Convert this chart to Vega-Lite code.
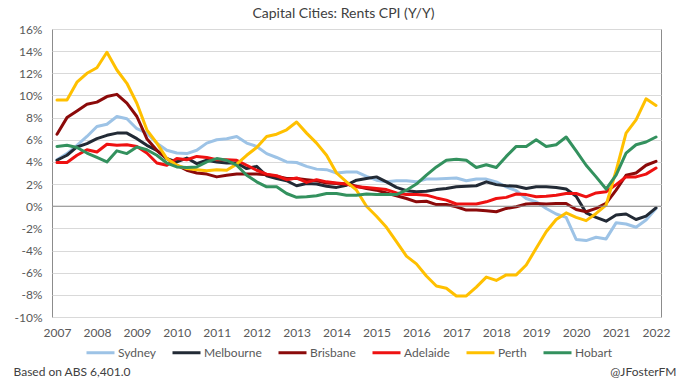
{
  "$schema": "https://vega.github.io/schema/vega-lite/v6.json",
  "width": 609,
  "height": 288,
  "autosize": {"type": "none"},
  "padding": {"left": 52, "top": 29, "right": 25, "bottom": 68},
  "background": "white",
  "config": {
    "font": "Lato",
    "view": {"stroke": "#8c8c8c", "strokeWidth": 1},
    "axis": {"labelOverlap": false}
  },
  "title": {
    "text": "Capital Cities: Rents CPI (Y/Y)",
    "font": "Lato",
    "fontSize": 14,
    "fontWeight": "normal",
    "color": "#404040",
    "anchor": "middle",
    "frame": "group",
    "dx": -13,
    "offset": 2
  },
  "layer": [
    {
      "data": {
        "values": [
          {"t": 2007.00, "Sydney": 4.2, "Melbourne": 4.15, "Brisbane": 6.5, "Adelaide": 3.95, "Perth": 9.6, "Hobart": 5.4},
          {"t": 2007.25, "Sydney": 4.75, "Melbourne": 4.6, "Brisbane": 8.0, "Adelaide": 3.95, "Perth": 9.6, "Hobart": 5.5},
          {"t": 2007.50, "Sydney": 5.5, "Melbourne": 5.35, "Brisbane": 8.6, "Adelaide": 4.6, "Perth": 11.2, "Hobart": 5.3},
          {"t": 2007.75, "Sydney": 6.3, "Melbourne": 5.65, "Brisbane": 9.2, "Adelaide": 5.1, "Perth": 12.0, "Hobart": 4.8},
          {"t": 2008.00, "Sydney": 7.2, "Melbourne": 6.1, "Brisbane": 9.4, "Adelaide": 4.9, "Perth": 12.5, "Hobart": 4.4},
          {"t": 2008.25, "Sydney": 7.4, "Melbourne": 6.4, "Brisbane": 9.9, "Adelaide": 5.6, "Perth": 13.9, "Hobart": 4.0},
          {"t": 2008.50, "Sydney": 8.1, "Melbourne": 6.6, "Brisbane": 10.1, "Adelaide": 5.5, "Perth": 12.3, "Hobart": 5.0},
          {"t": 2008.75, "Sydney": 7.9, "Melbourne": 6.6, "Brisbane": 9.3, "Adelaide": 5.55, "Perth": 11.1, "Hobart": 4.75},
          {"t": 2009.00, "Sydney": 7.0, "Melbourne": 6.1, "Brisbane": 8.1, "Adelaide": 5.4, "Perth": 9.3, "Hobart": 5.35},
          {"t": 2009.25, "Sydney": 6.6, "Melbourne": 5.5, "Brisbane": 6.1, "Adelaide": 4.8, "Perth": 6.9, "Hobart": 5.1},
          {"t": 2009.50, "Sydney": 5.7, "Melbourne": 5.05, "Brisbane": 5.05, "Adelaide": 3.9, "Perth": 5.7, "Hobart": 4.6},
          {"t": 2009.75, "Sydney": 5.05, "Melbourne": 4.3, "Brisbane": 4.3, "Adelaide": 3.7, "Perth": 4.3, "Hobart": 3.9},
          {"t": 2010.00, "Sydney": 4.8, "Melbourne": 4.0, "Brisbane": 3.7, "Adelaide": 4.3, "Perth": 3.7, "Hobart": 3.55},
          {"t": 2010.25, "Sydney": 4.75, "Melbourne": 4.35, "Brisbane": 3.25, "Adelaide": 4.2, "Perth": 3.4, "Hobart": 3.5},
          {"t": 2010.50, "Sydney": 5.05, "Melbourne": 3.85, "Brisbane": 3.0, "Adelaide": 4.5, "Perth": 3.3, "Hobart": 3.55},
          {"t": 2010.75, "Sydney": 5.7, "Melbourne": 4.15, "Brisbane": 2.9, "Adelaide": 4.4, "Perth": 3.2, "Hobart": 4.0},
          {"t": 2011.00, "Sydney": 6.0, "Melbourne": 4.0, "Brisbane": 2.65, "Adelaide": 4.2, "Perth": 3.3, "Hobart": 4.3},
          {"t": 2011.25, "Sydney": 6.1, "Melbourne": 3.9, "Brisbane": 2.8, "Adelaide": 4.2, "Perth": 3.25, "Hobart": 4.15},
          {"t": 2011.50, "Sydney": 6.3, "Melbourne": 3.9, "Brisbane": 2.9, "Adelaide": 4.15, "Perth": 3.8, "Hobart": 3.7},
          {"t": 2011.75, "Sydney": 5.7, "Melbourne": 3.4, "Brisbane": 2.9, "Adelaide": 3.7, "Perth": 4.6, "Hobart": 2.8},
          {"t": 2012.00, "Sydney": 5.4, "Melbourne": 3.6, "Brisbane": 2.9, "Adelaide": 3.25, "Perth": 5.3, "Hobart": 2.2},
          {"t": 2012.25, "Sydney": 4.75, "Melbourne": 2.75, "Brisbane": 2.85, "Adelaide": 2.9, "Perth": 6.3, "Hobart": 1.75},
          {"t": 2012.50, "Sydney": 4.4, "Melbourne": 2.5, "Brisbane": 2.7, "Adelaide": 2.75, "Perth": 6.5, "Hobart": 1.75},
          {"t": 2012.75, "Sydney": 4.0, "Melbourne": 2.3, "Brisbane": 2.5, "Adelaide": 2.4, "Perth": 6.9, "Hobart": 1.15},
          {"t": 2013.00, "Sydney": 3.95, "Melbourne": 1.85, "Brisbane": 2.5, "Adelaide": 2.55, "Perth": 7.6, "Hobart": 0.8},
          {"t": 2013.25, "Sydney": 3.6, "Melbourne": 2.05, "Brisbane": 2.4, "Adelaide": 2.15, "Perth": 6.6, "Hobart": 0.85},
          {"t": 2013.50, "Sydney": 3.35, "Melbourne": 2.0, "Brisbane": 2.3, "Adelaide": 2.4, "Perth": 5.7, "Hobart": 0.95},
          {"t": 2013.75, "Sydney": 3.3, "Melbourne": 1.8, "Brisbane": 2.1, "Adelaide": 2.2, "Perth": 4.6, "Hobart": 1.15},
          {"t": 2014.00, "Sydney": 3.0, "Melbourne": 1.7, "Brisbane": 2.05, "Adelaide": 2.1, "Perth": 3.0, "Hobart": 1.15},
          {"t": 2014.25, "Sydney": 3.1, "Melbourne": 1.9, "Brisbane": 2.0, "Adelaide": 2.0, "Perth": 2.2, "Hobart": 1.0},
          {"t": 2014.50, "Sydney": 3.1, "Melbourne": 2.35, "Brisbane": 1.8, "Adelaide": 1.75, "Perth": 1.45, "Hobart": 1.0},
          {"t": 2014.75, "Sydney": 2.7, "Melbourne": 2.5, "Brisbane": 1.6, "Adelaide": 1.7, "Perth": 0.0, "Hobart": 1.1},
          {"t": 2015.00, "Sydney": 2.35, "Melbourne": 2.65, "Brisbane": 1.45, "Adelaide": 1.6, "Perth": -0.9, "Hobart": 1.05},
          {"t": 2015.25, "Sydney": 2.2, "Melbourne": 2.2, "Brisbane": 1.2, "Adelaide": 1.5, "Perth": -1.9, "Hobart": 1.05},
          {"t": 2015.50, "Sydney": 2.3, "Melbourne": 1.7, "Brisbane": 0.95, "Adelaide": 1.2, "Perth": -3.2, "Hobart": 1.05},
          {"t": 2015.75, "Sydney": 2.3, "Melbourne": 1.4, "Brisbane": 0.7, "Adelaide": 1.05, "Perth": -4.5, "Hobart": 1.45},
          {"t": 2016.00, "Sydney": 2.2, "Melbourne": 1.3, "Brisbane": 0.4, "Adelaide": 1.05, "Perth": -5.2, "Hobart": 2.0},
          {"t": 2016.25, "Sydney": 2.45, "Melbourne": 1.35, "Brisbane": 0.45, "Adelaide": 1.0, "Perth": -6.3, "Hobart": 2.8},
          {"t": 2016.50, "Sydney": 2.45, "Melbourne": 1.5, "Brisbane": 0.15, "Adelaide": 0.75, "Perth": -7.2, "Hobart": 3.55},
          {"t": 2016.75, "Sydney": 2.5, "Melbourne": 1.6, "Brisbane": 0.15, "Adelaide": 0.55, "Perth": -7.4, "Hobart": 4.15},
          {"t": 2017.00, "Sydney": 2.55, "Melbourne": 1.75, "Brisbane": -0.05, "Adelaide": 0.2, "Perth": -8.1, "Hobart": 4.25},
          {"t": 2017.25, "Sydney": 2.3, "Melbourne": 1.8, "Brisbane": -0.35, "Adelaide": 0.2, "Perth": -8.1, "Hobart": 4.15},
          {"t": 2017.50, "Sydney": 2.45, "Melbourne": 1.85, "Brisbane": -0.35, "Adelaide": 0.2, "Perth": -7.3, "Hobart": 3.5},
          {"t": 2017.75, "Sydney": 2.45, "Melbourne": 2.2, "Brisbane": -0.4, "Adelaide": 0.4, "Perth": -6.4, "Hobart": 3.75},
          {"t": 2018.00, "Sydney": 2.2, "Melbourne": 1.95, "Brisbane": -0.5, "Adelaide": 0.7, "Perth": -6.7, "Hobart": 3.5},
          {"t": 2018.25, "Sydney": 1.75, "Melbourne": 1.85, "Brisbane": -0.2, "Adelaide": 0.8, "Perth": -6.2, "Hobart": 4.5},
          {"t": 2018.50, "Sydney": 1.4, "Melbourne": 1.8, "Brisbane": -0.05, "Adelaide": 1.1, "Perth": -6.2, "Hobart": 5.4},
          {"t": 2018.75, "Sydney": 0.7, "Melbourne": 1.6, "Brisbane": 0.2, "Adelaide": 1.05, "Perth": -5.3, "Hobart": 5.4},
          {"t": 2019.00, "Sydney": 0.4, "Melbourne": 1.75, "Brisbane": 0.25, "Adelaide": 0.85, "Perth": -3.8, "Hobart": 6.0},
          {"t": 2019.25, "Sydney": -0.2, "Melbourne": 1.75, "Brisbane": 0.2, "Adelaide": 0.9, "Perth": -2.3, "Hobart": 5.4},
          {"t": 2019.50, "Sydney": -0.7, "Melbourne": 1.7, "Brisbane": 0.25, "Adelaide": 1.0, "Perth": -1.2, "Hobart": 5.55},
          {"t": 2019.75, "Sydney": -1.0, "Melbourne": 1.55, "Brisbane": 0.25, "Adelaide": 1.15, "Perth": -0.6, "Hobart": 6.25},
          {"t": 2020.00, "Sydney": -3.0, "Melbourne": 0.9, "Brisbane": -0.3, "Adelaide": 1.15, "Perth": -1.0, "Hobart": 5.0},
          {"t": 2020.25, "Sydney": -3.1, "Melbourne": -0.6, "Brisbane": -0.5, "Adelaide": 0.85, "Perth": -1.3, "Hobart": 3.7},
          {"t": 2020.50, "Sydney": -2.8, "Melbourne": -1.0, "Brisbane": -0.2, "Adelaide": 1.2, "Perth": -0.65, "Hobart": 2.65},
          {"t": 2020.75, "Sydney": -2.95, "Melbourne": -1.35, "Brisbane": 0.25, "Adelaide": 1.3, "Perth": 0.1, "Hobart": 1.55},
          {"t": 2021.00, "Sydney": -1.5, "Melbourne": -0.8, "Brisbane": 1.45, "Adelaide": 1.95, "Perth": 3.2, "Hobart": 2.8},
          {"t": 2021.25, "Sydney": -1.6, "Melbourne": -0.7, "Brisbane": 2.8, "Adelaide": 2.65, "Perth": 6.6, "Hobart": 4.8},
          {"t": 2021.50, "Sydney": -1.9, "Melbourne": -1.2, "Brisbane": 3.0, "Adelaide": 2.65, "Perth": 7.8, "Hobart": 5.55},
          {"t": 2021.75, "Sydney": -1.25, "Melbourne": -0.9, "Brisbane": 3.7, "Adelaide": 2.9, "Perth": 9.7, "Hobart": 5.8},
          {"t": 2022.00, "Sydney": -0.2, "Melbourne": -0.15, "Brisbane": 4.05, "Adelaide": 3.45, "Perth": 9.1, "Hobart": 6.25}
        ]
      },
      "transform": [
        {"fold": ["Sydney", "Melbourne", "Brisbane", "Adelaide", "Perth", "Hobart"], "as": ["city", "value"]}
      ],
      "mark": {"type": "line", "strokeWidth": 3, "strokeJoin": "round", "strokeCap": "round"},
      "encoding": {
        "x": {
          "field": "t",
          "type": "quantitative",
          "scale": {"domain": [2006.875, 2022.125], "nice": false, "zero": false},
          "axis": {
            "values": [2007, 2008, 2009, 2010, 2011, 2012, 2013, 2014, 2015, 2016, 2017, 2018, 2019, 2020, 2021, 2022],
            "tickCount": 30,
            "format": "d",
            "grid": false,
            "ticks": false,
            "domain": false,
            "labelFlush": false,
            "labelOverlap": false,
            "labelFontSize": 12,
            "labelColor": "#595959",
            "labelPadding": 10,
            "title": "Based on ABS 6,401.0",
            "titleX": -39,
            "titleY": 58,
            "titleAlign": "left",
            "titleBaseline": "alphabetic",
            "titleFontSize": 12,
            "titleFontWeight": "normal",
            "titleColor": "#404040"
          }
        },
        "y": {
          "field": "value",
          "type": "quantitative",
          "scale": {"domain": [-10, 16], "nice": false, "zero": false},
          "axis": {
            "values": [-10, -8, -6, -4, -2, 0, 2, 4, 6, 8, 10, 12, 14, 16],
            "tickCount": 30,
            "labelExpr": "datum.value + '%'",
            "labelOverlap": false,
            "grid": true,
            "gridColor": "#d9d9d9",
            "gridWidth": 1,
            "ticks": false,
            "domain": false,
            "labelFontSize": 12,
            "labelColor": "#595959",
            "labelPadding": 10,
            "title": "@JFosterFM",
            "titleAngle": 0,
            "titleX": 624,
            "titleY": 346,
            "titleAlign": "right",
            "titleBaseline": "alphabetic",
            "titleFontSize": 12,
            "titleFontWeight": "normal",
            "titleColor": "#404040"
          }
        },
        "color": {
          "field": "city",
          "type": "nominal",
          "scale": {
            "domain": ["Sydney", "Melbourne", "Brisbane", "Adelaide", "Perth", "Hobart"],
            "range": ["#9DC3E6", "#222A35", "#8B0A0A", "#EE1111", "#FFC000", "#33915E"]
          },
          "legend": {
            "orient": "none",
            "legendX": 33,
            "legendY": 308,
            "direction": "horizontal",
            "title": null,
            "symbolType": "stroke",
            "symbolSize": 784,
            "symbolStrokeWidth": 3,
            "labelFontSize": 12,
            "labelColor": "#595959",
            "labelOffset": 2,
            "columnPadding": 10
          }
        }
      }
    },
    {
      "data": {"values": [{}]},
      "mark": {"type": "rule", "color": "#8c8c8c", "strokeWidth": 1},
      "encoding": {"y": {"datum": 0, "type": "quantitative"}}
    }
  ]
}
